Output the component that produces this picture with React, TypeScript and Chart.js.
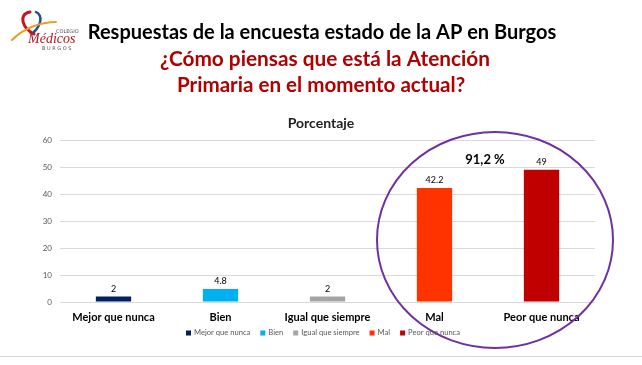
import React, { useEffect, useRef } from "react";
import { Chart, registerables } from "chart.js";

Chart.register(...registerables);

const categories = ["Mejor que nunca", "Bien", "Igual que siempre", "Mal", "Peor que nunca"];
const values = [2, 4.8, 2, 42.2, 49];
const colors = ["#002060", "#00B0F0", "#A5A5A5", "#FF3300", "#C00000"];
const yTicks = [0, 10, 20, 30, 40, 50, 60];
const mainTitle = "Respuestas de la encuesta estado de la AP en Burgos";
const subTitle1 = "¿Cómo piensas que está la Atención";
const subTitle2 = "Primaria en el momento actual?";
const chartTitle = "Porcentaje";

const FONT = "Lato, 'Open Sans', sans-serif";

const decorPlugin = {
  id: "decor",
  afterDraw(chart: any) {
    const ctx = chart.ctx;
    const xs = chart.scales.x;
    const ys = chart.scales.y;
    ctx.save();

    // logo approximation
    ctx.lineCap = "round";
    ctx.strokeStyle = "#C8141E";
    ctx.lineWidth = 3;
    ctx.beginPath();
    ctx.moveTo(30, 12);
    ctx.bezierCurveTo(18, 14, 22, 28, 34, 34);
    ctx.stroke();
    ctx.strokeStyle = "#1F4E9A";
    ctx.lineWidth = 2.5;
    ctx.beginPath();
    ctx.moveTo(36, 12);
    ctx.bezierCurveTo(44, 16, 40, 26, 34, 32);
    ctx.stroke();
    ctx.strokeStyle = "#E8A020";
    ctx.lineWidth = 2;
    ctx.beginPath();
    ctx.moveTo(12, 40);
    ctx.bezierCurveTo(26, 26, 44, 22, 56, 22);
    ctx.stroke();
    ctx.fillStyle = "#B4141E";
    ctx.font = `italic 14px 'Liberation Serif', serif`;
    ctx.textAlign = "left";
    ctx.textBaseline = "alphabetic";
    ctx.fillText("Médicos", 28, 43);
    ctx.font = `5px 'DejaVu Sans', sans-serif`;
    ctx.fillStyle = "#555";
    ctx.fillText("B U R G O S", 42, 50);
    ctx.fillText("COLEGIO", 56, 33);

    // titles
    ctx.textAlign = "center";
    ctx.textBaseline = "middle";
    ctx.fillStyle = "#000000";
    ctx.font = `bold 20px Lato, sans-serif`;
    ctx.fillText(mainTitle, 322, 33);
    ctx.fillStyle = "#B00000";
    ctx.font = `bold 20.8px Lato, sans-serif`;
    ctx.fillText(subTitle1, 325, 59);
    ctx.font = `bold 20.6px Lato, sans-serif`;
    ctx.fillText(subTitle2, 321, 85);

    ctx.fillStyle = "#222";
    ctx.font = `bold 14px ${FONT}`;
    ctx.fillText(chartTitle, 321, 123);

    // data labels
    ctx.font = `9px ${FONT}`;
    ctx.fillStyle = "#000";
    ctx.textBaseline = "bottom";
    const meta = chart.getDatasetMeta(0);
    meta.data.forEach((bar: any, i: number) => {
      ctx.fillText(String(values[i]), bar.x, bar.y - 3);
    });

    // combined label
    const sum = values[3] + values[4];
    const cx = (xs.getPixelForValue(3) + xs.getPixelForValue(4)) / 2;
    ctx.textBaseline = "middle";
    ctx.font = `bold 13px ${FONT}`;
    ctx.fillText(sum.toFixed(1).replace(".", ",") + " %", cx - 3, ys.getPixelForValue(52.8));

    // ellipse
    ctx.strokeStyle = "#7030A0";
    ctx.lineWidth = 2;
    ctx.beginPath();
    ctx.ellipse(cx + 7, ys.getPixelForValue(23), 118, 108, 0, 0, Math.PI * 2);
    ctx.stroke();

    // legend
    ctx.font = `7.6px ${FONT}`;
    ctx.textAlign = "left";
    ctx.textBaseline = "middle";
    const ly = 333;
    const gap = 10;
    const widths = categories.map((c) => 8 + ctx.measureText(c).width);
    const total = widths.reduce((a, b) => a + b, 0) + gap * (categories.length - 1);
    let lx = 323 - total / 2;
    categories.forEach((c, i) => {
      ctx.fillStyle = colors[i];
      ctx.fillRect(lx, ly - 2.5, 5, 5);
      ctx.fillStyle = "#595959";
      ctx.fillText(c, lx + 8, ly);
      lx += widths[i] + gap;
    });

    // bottom line
    ctx.strokeStyle = "#D9D9D9";
    ctx.lineWidth = 1;
    ctx.beginPath();
    ctx.moveTo(0, 356.5);
    ctx.lineTo(642, 356.5);
    ctx.stroke();

    ctx.restore();
  },
};

export default function App() {
  const ref = useRef<HTMLCanvasElement | null>(null);
  useEffect(() => {
    if (!ref.current) return;
    const chart = new Chart(ref.current, {
      type: "bar",
      data: {
        labels: categories,
        datasets: [
          {
            data: values,
            backgroundColor: colors,
            barPercentage: 0.33,
            categoryPercentage: 1,
          },
        ],
      },
      options: {
        animation: false,
        responsive: false,
        layout: { padding: { left: 20, right: 47, top: 140, bottom: 33 } },
        plugins: { legend: { display: false }, tooltip: { enabled: false }, title: { display: false } },
        scales: {
          x: {
            grid: { display: false },
            border: { display: false },
            ticks: { color: "#000", font: { family: FONT, size: 11, weight: "bold" }, padding: 1 },
            afterFit: (s: any) => {
              s.height = 30;
            },
          },
          y: {
            min: 0,
            max: 60,
            afterBuildTicks: (s: any) => {
              s.ticks = yTicks.map((v) => ({ value: v }));
            },
            grid: { color: "#D9D9D9", drawTicks: false },
            border: { display: false },
            ticks: { color: "#595959", font: { family: FONT, size: 8 }, padding: 8 },
            afterFit: (s: any) => {
              s.width = 40;
            },
          },
        },
      },
      plugins: [decorPlugin],
    });
    return () => chart.destroy();
  }, []);
  return (
    <div style={{ position: "fixed", left: 0, top: 0, width: 642, height: 365, background: "#fff" }}>
      <canvas ref={ref} width={642} height={365} style={{ width: 642, height: 365 }} />
    </div>
  );
}
